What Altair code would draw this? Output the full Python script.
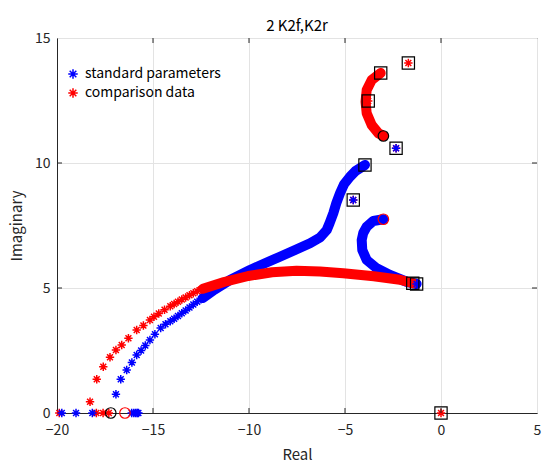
import altair as alt
import pandas as pd

FONT = "Noto Sans CJK JP"
BLUE = "#0000FF"
RED = "#FF0000"
ASTER = "M-1,0L1,0M0,-1L0,1M-0.7,-0.7L0.7,0.7M-0.7,0.7L0.7,-0.7"

# ---- dense root-locus branches (drawn as thick bands) ----
std_b1_x = [-3.96, -4.45, -4.74, -5.05, -5.26, -5.45, -5.61, -5.8, -5.95, -6.3, -6.82, -7.6, -8.39, -9.2, -9.95, -10.99, -11.8, -12.4]
std_b1_y = [9.92, 9.68, 9.45, 9.15, 8.79, 8.4, 7.99, 7.6, 7.32, 7.02, 6.79, 6.52, 6.25, 5.98, 5.72, 5.32, 4.93, 4.6]
std_b2_x = [-3.0, -3.53, -3.87, -4.05, -4.13, -4.1, -3.87, -3.35, -2.66, -1.79, -1.27]
std_b2_y = [7.75, 7.68, 7.45, 7.2, 6.92, 6.52, 6.12, 5.79, 5.52, 5.25, 5.16]
cmp_b1_x = [-3.14, -3.61, -3.87, -3.93, -3.87, -3.61, -3.26, -3.0]
cmp_b1_y = [13.6, 13.32, 12.92, 12.45, 11.99, 11.52, 11.19, 11.08]
cmp_b2_x = [-1.47, -2.14, -3.5, -5.09, -6.3, -7.52, -8.8, -10.04, -11.3, -12.4]
cmp_b2_y = [5.19, 5.33, 5.47, 5.59, 5.66, 5.69, 5.63, 5.48, 5.24, 4.97]

# ---- individually visible asterisks ----
cmp_pts_x = [-12.5, -12.7, -12.9, -13.1, -13.3, -13.5, -13.7, -13.9, -14.1, -14.4,
             -14.7, -14.95, -15.16, -15.5, -15.85, -16.28, -16.63, -16.93, -17.24, -17.59, -17.93, -18.28,
             -19.88, -17.95, -17.6, -17.3,
             -3.14, -3.79, -1.70, -1.47, -2.34, -4.57]
cmp_pts_y = [4.94, 4.87, 4.79, 4.71, 4.62, 4.54, 4.45, 4.36, 4.27, 4.13,
             3.98, 3.85, 3.72, 3.5, 3.32, 2.99, 2.72, 2.52, 2.23, 1.85, 1.35, 0.45,
             0, 0, 0, 0,
             13.6, 12.48, 14.0, 5.19, 10.59, 8.52]
std_pts_x = [-12.5, -12.7, -12.9, -13.1, -13.3, -13.5, -13.7, -13.9, -14.1, -14.35,
             -14.6, -14.9, -15.16, -15.4, -15.62, -15.85, -16.1, -16.37, -16.68, -16.93,
             -19.75, -19.01, -18.16, -16.11, -16.0, -15.9, -15.82, -15.76,
             -3.96, -4.57, -2.34, -1.27]
std_pts_y = [4.55, 4.45, 4.34, 4.22, 4.1, 3.99, 3.88, 3.77, 3.67, 3.55,
             3.4, 3.15, 2.92, 2.7, 2.5, 2.32, 2.02, 1.72, 1.35, 0.75,
             0, 0, 0, 0, 0, 0, 0, 0,
             9.92, 8.52, 10.59, 5.16]
origin_x = [0.0]
origin_y = [0.0]

# ---- pole (square) and zero (circle) markers ----
sq_x = [-3.14, -3.79, -1.70, -2.34, -3.96, -4.57, -1.47, -1.27, 0.0]
sq_y = [13.6, 12.48, 14.0, 10.59, 9.92, 8.52, 5.19, 5.16, 0.0]
zero_black_x = [-17.2, -3.0]
zero_black_y = [0.0, 11.08]
zero_red_x = [-16.46, -3.0]
zero_red_y = [0.0, 7.75]

# axis tick values
x_ticks = [-20, -15, -10, -5, 0, 5]
y_ticks = [0, 5, 10, 15]

series = ["standard parameters", "comparison data"]

lines = []
for name, col, segs in [
    (series[0], BLUE, [(std_b1_x, std_b1_y), (std_b2_x, std_b2_y)]),
    (series[1], RED, [(cmp_b1_x, cmp_b1_y), (cmp_b2_x, cmp_b2_y)]),
]:
    for si, (xs_, ys_) in enumerate(segs):
        for i, (a, b) in enumerate(zip(xs_, ys_)):
            lines.append({"x": a, "y": b, "seg": f"{name}-{si}", "col": col, "i": i})
lines_df = pd.DataFrame(lines)

# comparison first, standard drawn over it, origin (red) last
pts = [{"x": a, "y": b, "s": series[1]} for a, b in zip(cmp_pts_x, cmp_pts_y)] + \
      [{"x": a, "y": b, "s": series[0]} for a, b in zip(std_pts_x, std_pts_y)] + \
      [{"x": a, "y": b, "s": series[1]} for a, b in zip(origin_x, origin_y)]
pts_df = pd.DataFrame(pts)
sq_df = pd.DataFrame({"x": sq_x, "y": sq_y})
zb_df = pd.DataFrame({"x": zero_black_x, "y": zero_black_y})
zr_df = pd.DataFrame({"x": zero_red_x, "y": zero_red_y})
xt_df = pd.DataFrame({"x": x_ticks[1:-1]})
yt_df = pd.DataFrame({"y": y_ticks[1:-1]})

xs = alt.Scale(domain=[-20, 5], nice=False, zero=False)
ys = alt.Scale(domain=[0, 15], nice=False, zero=False)
X = alt.X("x:Q", scale=xs, axis=alt.Axis(values=x_ticks, title="Real", labelFlush=False, labelOverlap=False))
Y = alt.Y("y:Q", scale=ys, axis=alt.Axis(values=y_ticks, title="Imaginary", labelFlush=False, labelOverlap=False))

band = alt.Chart(lines_df).mark_line(strokeWidth=10, strokeCap="round", strokeJoin="round").encode(
    x=X, y=Y, detail="seg:N", order="i:Q",
    color=alt.Color("col:N", scale=None),
)

points = alt.Chart(pts_df).mark_point(shape=ASTER, filled=False, strokeWidth=1.5, size=70, opacity=1).encode(
    x=X, y=Y,
    color=alt.Color("s:N", scale=alt.Scale(domain=series, range=[BLUE, RED]),
                    legend=alt.Legend(title=None, orient="none", legendX=9, legendY=29,
                                      labelFont=FONT, labelFontSize=14, labelColor="black",
                                      symbolType=ASTER, symbolSize=90, symbolStrokeWidth=1.5,
                                      symbolFillColor="transparent",
                                      rowPadding=3, labelOffset=5, padding=0)),
)

squares = alt.Chart(sq_df).mark_point(shape="square", filled=False, stroke="black", strokeWidth=1.2, size=150, opacity=1).encode(x=X, y=Y)
zb = alt.Chart(zb_df).mark_point(shape="circle", filled=False, stroke="black", strokeWidth=1.2, size=110, opacity=1).encode(x=X, y=Y)
zr = alt.Chart(zr_df).mark_point(shape="circle", filled=False, stroke=RED, strokeWidth=1.2, size=110, opacity=1).encode(x=X, y=Y)

TC = "#262626"
xt_bot = alt.Chart(xt_df).mark_rule(color=TC, strokeWidth=1).encode(x=X, y=alt.value(375), y2=alt.value(370))
xt_top = alt.Chart(xt_df).mark_rule(color=TC, strokeWidth=1).encode(x=X, y=alt.value(0), y2=alt.value(5))
yt_l = alt.Chart(yt_df).mark_rule(color=TC, strokeWidth=1).encode(y=Y, x=alt.value(0), x2=alt.value(5))
yt_r = alt.Chart(yt_df).mark_rule(color=TC, strokeWidth=1).encode(y=Y, x=alt.value(480), x2=alt.value(475))

chart = alt.layer(band, points, squares, zb, zr, xt_bot, xt_top, yt_l, yt_r).resolve_scale(color="independent").properties(
    width=480, height=375,
    title=alt.TitleParams("2 K2f,K2r", font=FONT, fontSize=15, fontWeight="normal", color="black", offset=0, dy=3),
    autosize=alt.AutoSizeParams(type="none"),
    padding={"left": 57, "top": 38, "right": 8, "bottom": 51},
).configure_view(stroke=TC, strokeWidth=1).configure_axis(
    labelFont=FONT, labelFontSize=14, labelColor=TC,
    titleFont=FONT, titleFontSize=15, titleFontWeight="normal", titleColor=TC,
    gridColor="#e3e3e3", domainColor=TC, ticks=False,
).configure_axisX(labelPadding=10, titlePadding=10).configure_axisY(labelPadding=7, titlePadding=10)

chart.save("out.html", embed_options={"renderer": "svg", "actions": False})
